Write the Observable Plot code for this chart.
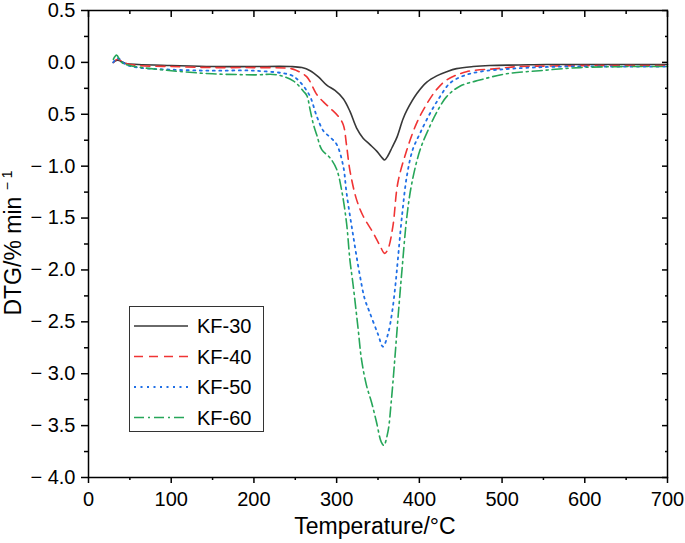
<!DOCTYPE html>
<html><head><meta charset="utf-8">
<script src="https://cdn.jsdelivr.net/npm/d3@7"></script>
<script src="https://cdn.jsdelivr.net/npm/@observablehq/plot@0.6"></script>
<style>
body{margin:0;background:#fff;}
#wrap{position:relative;width:685px;height:543px;font-family:"Liberation Sans",Arial,sans-serif;}
#legend{position:absolute;left:129px;top:306px;width:135px;height:126px;border:1.2px solid #333;background:#fff;box-sizing:border-box;}
</style></head><body><div id="wrap"></div>
<script>
// ---- data ----
const seriesNames = ["KF-30", "KF-40", "KF-50", "KF-60"];

const kf30T = [30,35,45,60,100,150,200,244,258,268,278,288,298,308,316,324,332,340,349,355,358,362,367,373,380,385,397,409,421,433,445,465,485,520,554,600,650,700];
const kf30V = [0.0,0.02,-0.01,-0.02,-0.03,-0.04,-0.04,-0.04,-0.05,-0.08,-0.14,-0.22,-0.27,-0.35,-0.47,-0.63,-0.73,-0.79,-0.86,-0.92,-0.94,-0.90,-0.82,-0.72,-0.55,-0.46,-0.30,-0.19,-0.13,-0.09,-0.06,-0.04,-0.03,-0.025,-0.02,-0.02,-0.02,-0.02];

const kf40T = [30,35,45,60,100,150,200,245,252,264,276,284,292,302,308,312,316,324,332,344,352,358,362,368,374,385,397,409,421,433,457,494,521,560,620,700];
const kf40V = [0.0,0.03,-0.01,-0.03,-0.04,-0.05,-0.05,-0.06,-0.08,-0.14,-0.31,-0.38,-0.44,-0.52,-0.60,-0.80,-1.04,-1.32,-1.48,-1.64,-1.76,-1.84,-1.80,-1.58,-1.16,-0.84,-0.58,-0.40,-0.26,-0.17,-0.09,-0.06,-0.04,-0.035,-0.03,-0.03];

const kf50T = [30,35,45,60,100,150,200,244,252,260,268,276,284,292,300,308,312,320,328,334,340,350,356,362,367,371,374,379,385,392,401,413,425,437,453,473,513,573,640,700];
const kf50V = [0.0,0.04,-0.02,-0.05,-0.07,-0.08,-0.08,-0.12,-0.16,-0.23,-0.33,-0.52,-0.66,-0.72,-0.79,-1.0,-1.26,-1.67,-2.05,-2.28,-2.41,-2.62,-2.74,-2.62,-2.41,-2.15,-1.90,-1.48,-1.09,-0.84,-0.68,-0.49,-0.33,-0.20,-0.13,-0.09,-0.06,-0.04,-0.04,-0.04];

const kf60T = [30,34,40,50,100,150,200,228,248,260,264,268,272,276,282,292,300,306,312,316,320,326,330,336,342,348,354,357,362,366,370,374,379,385,391,401,413,421,433,449,473,505,545,594,650,700];
const kf60V = [0.03,0.07,0.0,-0.03,-0.08,-0.11,-0.12,-0.12,-0.18,-0.28,-0.32,-0.46,-0.60,-0.70,-0.84,-0.92,-1.03,-1.23,-1.55,-1.90,-2.15,-2.57,-2.86,-3.11,-3.27,-3.46,-3.66,-3.69,-3.56,-3.27,-2.89,-2.48,-2.00,-1.48,-1.16,-0.84,-0.61,-0.48,-0.33,-0.23,-0.17,-0.11,-0.08,-0.05,-0.04,-0.04];

const xMajor = [0,100,200,300,400,500,600,700];
const xMinor = [50,150,250,350,450,550,650];
const yMajor = [0.5,0,-0.5,-1,-1.5,-2,-2.5,-3,-3.5,-4];
const yMinor = [0.25,-0.25,-0.75,-1.25,-1.75,-2.25,-2.75,-3.25,-3.75];
const yTickLabels = ["0.5","0.0","0.5","\u2212 1.0","\u2212 1.5","\u2212 2.0","\u2212 2.5","\u2212 3.0","\u2212 3.5","\u2212 4.0"];
const xLabel = "Temperature/°C";
const yLabel = "DTG/% min";
const yLabelSup = "\u2212 1";

// ---- build table ----
const seriesT = [kf30T, kf40T, kf50T, kf60T];
const seriesV = [kf30V, kf40V, kf50V, kf60V];
const data = seriesNames.flatMap((s, k) => seriesT[k].map((t, i) => ({series: s, T: t, v: seriesV[k][i]})));

const styles = {
  "KF-30": {stroke: "#383838", dash: null, w: 1.6},
  "KF-40": {stroke: "#f03434", dash: "9,6", w: 1.6},
  "KF-50": {stroke: "#1f6fe6", dash: "2,4.5", w: 1.8},
  "KF-60": {stroke: "#26a659", dash: "10,4,2,4", w: 1.6}
};

const blank = () => "";
const chart = Plot.plot({
  width: 685, height: 543,
  marginLeft: 88, marginRight: 18, marginTop: 10, marginBottom: 66,
  x: {domain: [0, 700]},
  y: {domain: [-4, 0.5]},
  style: {fontFamily: '"Liberation Sans", Arial, sans-serif', fontSize: "20px", color: "#000", background: "#fff", overflow: "visible"},
  marks: [
    ...seriesNames.map(s => Plot.line(data.filter(d => d.series === s), {
      x: "T", y: "v", stroke: styles[s].stroke, strokeWidth: styles[s].w,
      strokeDasharray: styles[s].dash, curve: "catmull-rom"
    })),
    Plot.frame({stroke: "#000", strokeWidth: 1.5}),
    Plot.axisX({ticks: xMajor, tickSize: 6, tickPadding: 8, tickFormat: d => String(d), label: null, strokeWidth: 1.5, fontSize: 20}),
    Plot.axisX({ticks: xMinor, tickSize: 3, tickFormat: blank, label: null, strokeWidth: 1.5}),
    Plot.axisX({anchor: "top", ticks: xMajor, tickSize: -6, tickFormat: blank, label: null, strokeWidth: 1.5}),
    Plot.axisX({anchor: "top", ticks: xMinor, tickSize: -3, tickFormat: blank, label: null, strokeWidth: 1.5}),
    Plot.axisY({ticks: yMajor, tickSize: 7, tickPadding: 6, tickFormat: d => yTickLabels[yMajor.indexOf(d)], label: null, strokeWidth: 1.5, fontSize: 20}),
    Plot.axisY({ticks: yMinor, tickSize: 4, tickFormat: blank, label: null, strokeWidth: 1.5}),
    Plot.axisY({anchor: "right", ticks: yMajor, tickSize: -6, tickFormat: blank, label: null, strokeWidth: 1.5}),
    Plot.axisY({anchor: "right", ticks: yMinor, tickSize: -3, tickFormat: blank, label: null, strokeWidth: 1.5})
  ]
});

const wrap = document.getElementById("wrap");
wrap.appendChild(chart);

// axis titles
const svg = d3.select(chart);
svg.append("text").attr("x", 375).attr("y", 534).attr("text-anchor", "middle")
  .attr("font-size", 23).attr("fill", "#000").text(xLabel);
const yl = svg.append("text").attr("transform", "translate(21,243) rotate(-90)")
  .attr("text-anchor", "middle").attr("font-size", 23).attr("fill", "#000");
yl.append("tspan").text(yLabel + " ");
yl.append("tspan").attr("font-size", 14).attr("dy", -9).text(yLabelSup);

// legend
const leg = document.createElement("div");
leg.id = "legend";
wrap.appendChild(leg);
const ls = d3.select(leg).append("svg").attr("width", 135).attr("height", 126)
  .style("font-family", '"Liberation Sans", Arial, sans-serif');
seriesNames.forEach((s, i) => {
  const cy = 19 + i * 30.5;
  ls.append("line").attr("x1", 4).attr("x2", 58).attr("y1", cy).attr("y2", cy)
    .attr("stroke", styles[s].stroke).attr("stroke-width", styles[s].w)
    .attr("stroke-dasharray", styles[s].dash);
  ls.append("text").attr("x", 67).attr("y", cy + 7).attr("font-size", 20).attr("fill", "#000").text(s);
});
</script>
</body></html>
